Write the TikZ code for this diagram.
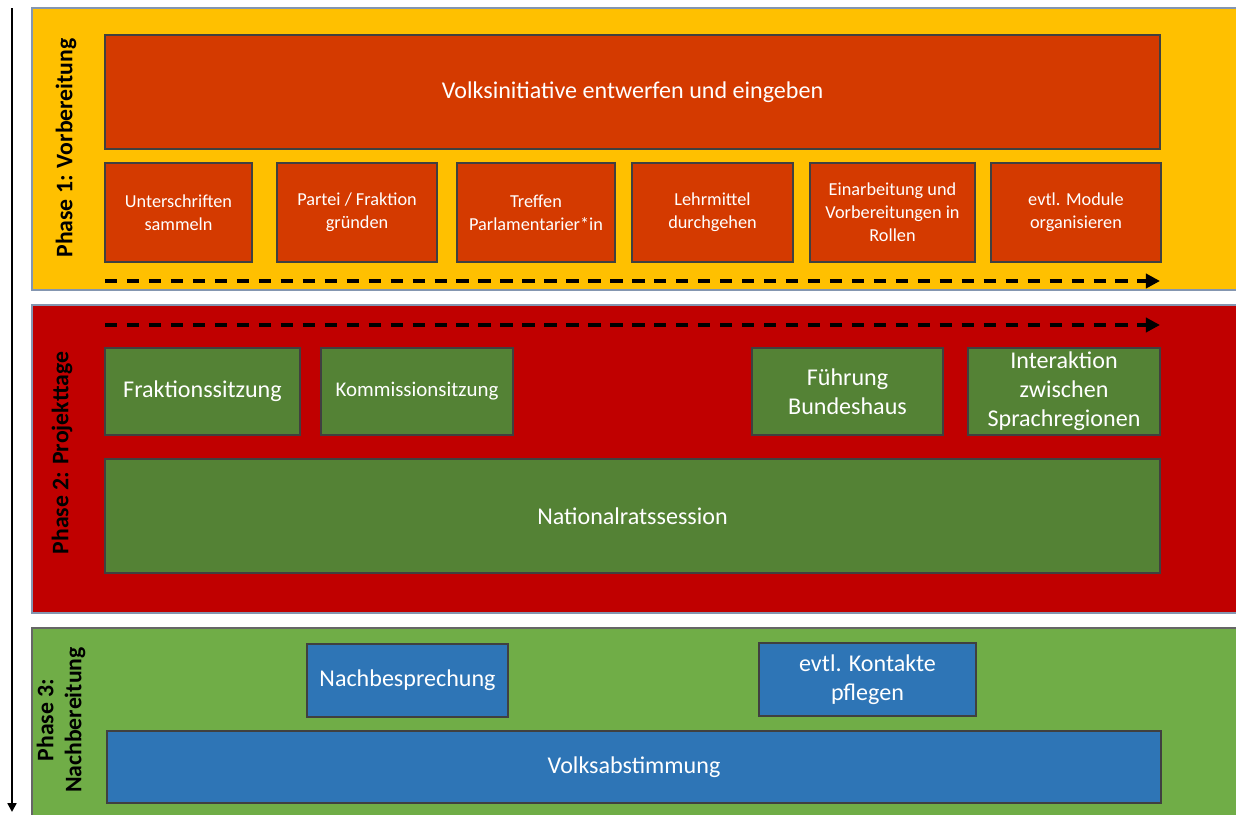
\documentclass[tikz,border=0pt]{standalone}
\usepackage{fontspec}
\setmainfont{Carlito}
\usepackage{xcolor}
\usetikzlibrary{arrows.meta}

\definecolor{gelb}{HTML}{FFC000}
\definecolor{rot}{HTML}{C00000}
\definecolor{gruen}{HTML}{70AD47}
\definecolor{orangebox}{HTML}{D43A00}
\definecolor{gruenbox}{HTML}{548235}
\definecolor{blaubox}{HTML}{2E75B6}
\definecolor{rand}{HTML}{8496B0}

\begin{document}
\begin{tikzpicture}[
  band/.style={draw=rand, line width=0.6pt},
  box/.style={draw=black!75, line width=0.8pt, text=white, align=center, inner sep=2pt},
  klein/.style={font=\fontsize{10.4}{13}\selectfont},
  gross/.style={font=\fontsize{13.7}{16.5}\selectfont},
  titel/.style={rotate=90, align=center, font=\bfseries\fontsize{13.5}{16}\selectfont},
  zeit/.style={-{Triangle[length=8pt,width=8pt]}, line width=2pt, dash pattern=on 7pt off 5.5pt}
]
   \useasboundingbox (0,0) rectangle (24.72,-16.28);
   % Phasen
   \filldraw[band, fill=gelb] (0.64,-0.16) rectangle (24.8,-5.80);
   \filldraw[band, fill=rot] (0.64,-6.10) rectangle (24.8,-12.26);
   \filldraw[band, draw=black!60, fill=gruen] (0.64,-12.56) rectangle (24.8,-16.5);
   \coordinate (zeitoben) at (0.24,-0.16);
   \coordinate (zeitunten) at (0.24,-16.24);
   \draw[-{Triangle[length=5pt,width=5pt]}, line width=1.2pt] (zeitoben) -- (zeitunten);
   \node[titel] (p1) at (1.32,-2.96) {Phase 1: Vorbereitung};
   \node[titel] (p2) at (1.24,-9.06) {Phase 2: Projekttage};
   \node[titel] (p3) at (1.22,-14.40) {Phase 3:\\Nachbereitung};

   % Phase 1
   \node[box, gross, fill=orangebox, minimum width=21.10cm, minimum height=2.28cm] (vi) at (12.65,-1.84) {Volksinitiative entwerfen und eingeben};
   \foreach \n/\x/\w/\t in {u/3.57/2.94/{Unterschriften\\sammeln},
                          pf/7.14/3.20/{Partei / Fraktion\\gründen},
                          tp/10.72/3.16/{Treffen\\Parlamentarier*in},
                          lm/14.25/3.22/{Lehrmittel\\durchgehen},
                          ev/17.85/3.30/{Einarbeitung und\\Vorbereitungen in\\Rollen},
                          mo/21.52/3.40/{evtl. Module\\organisieren}}
      \node[box, klein, fill=orangebox, minimum width=\w cm, minimum height=1.98cm] (\n) at (\x,-4.25) {\t};
   \coordinate (a1) at (2.10,-5.62);
   \coordinate (b1) at (23.20,-5.62);
   \draw[zeit] (a1) -- (b1);

   % Phase 2
   \coordinate (a2) at (2.10,-6.50);
   \coordinate (b2) at (23.20,-6.50);
   \draw[zeit] (a2) -- (b2);
   \node[box, gross, fill=gruenbox, minimum width=3.90cm, minimum height=1.74cm] (fs) at (4.05,-7.83) {Fraktionssitzung};
   \node[box, font=\fontsize{11.9}{14}\selectfont, fill=gruenbox, minimum width=3.84cm, minimum height=1.74cm] (ks) at (8.34,-7.83) {Kommissionsitzung};
   \node[box, gross, fill=gruenbox, minimum width=3.82cm, minimum height=1.74cm] (fb) at (16.95,-7.83) {Führung\\Bundeshaus};
   \node[box, gross, fill=gruenbox, minimum width=3.84cm, minimum height=1.74cm] (is) at (21.28,-7.83) {Interaktion\\zwischen\\Sprachregionen};
   \node[box, gross, fill=gruenbox, minimum width=21.10cm, minimum height=2.28cm] (nr) at (12.65,-10.32) {Nationalratssession};

   % Phase 3
   \node[box, gross, fill=blaubox, minimum width=4.02cm, minimum height=1.46cm] (nb) at (8.15,-13.61) {Nachbesprechung};
   \node[box, gross, fill=blaubox, minimum width=4.34cm, minimum height=1.46cm] (kp) at (17.35,-13.59) {evtl. Kontakte\\pflegen};
   \node[box, gross, fill=blaubox, minimum width=21.08cm, minimum height=1.44cm] (va) at (12.68,-15.34) {Volksabstimmung};
\end{tikzpicture}
\end{document}
